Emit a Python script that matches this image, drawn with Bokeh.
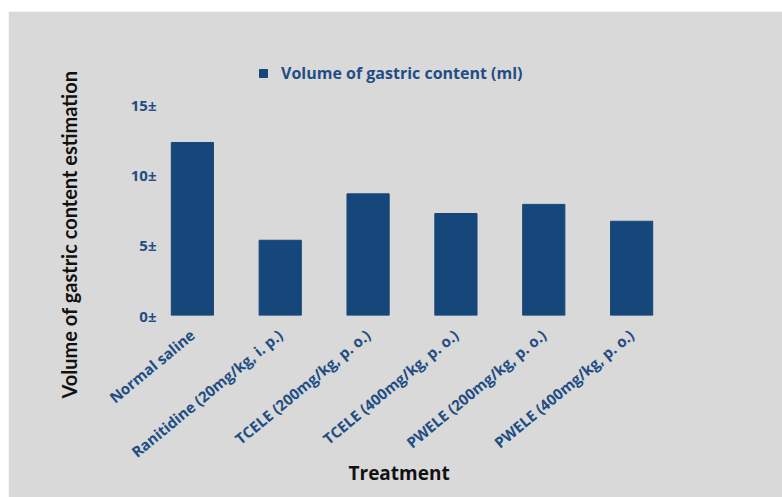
from bokeh.plotting import figure
from bokeh.models import (ColumnDataSource, FixedTicker, Legend, LegendItem,
                          Range1d, Spacer, Title)
from bokeh.layouts import row, column
from bokeh.embed import file_html
from bokeh.resources import INLINE

# Treatment groups and measured gastric volume (ml)
treatments = [
    "Normal saline",
    "Ranitidine (20mg/kg, i. p.)",
    "TCELE (200mg/kg, p. o.)",
    "TCELE (400mg/kg, p. o.)",
    "PWELE (200mg/kg, p. o.)",
    "PWELE (400mg/kg, p. o.)",
]
volume_ml = [12.3, 5.35, 8.65, 7.25, 7.9, 6.7]
y_ticks = [0, 5, 10, 15]
y_tick_labels = ["0±", "5±", "10±", "15±"]

BG = "#d9d9d9"
BAR = "#15477a"
LABEL = "#1f4e85"

positions = list(range(len(treatments)))
source = ColumnDataSource(data=dict(x=positions, top=volume_ml))

p = figure(
    width=774, height=486,
    x_range=Range1d(-0.34, 5.34), y_range=Range1d(0, 18.13),
    frame_width=499, frame_height=255,
    min_border_left=154, min_border_right=121,
    min_border_top=49, min_border_bottom=182,
    toolbar_location=None, output_backend="svg",
    background_fill_color=BG, border_fill_color=BG,
)
p.outline_line_color = BG
p.outline_line_width = 2
p.grid.visible = False

bars = p.vbar(x="x", top="top", width=0.48, bottom=0, source=source,
              fill_color=BAR, line_color=BAR)

# y axis
ya = p.yaxis[0]
ya.ticker = FixedTicker(ticks=y_ticks)
ya.major_label_overrides = {t: l for t, l in zip(y_ticks, y_tick_labels)}
ya.axis_line_color = None
ya.major_tick_line_color = None
ya.minor_tick_line_color = None
ya.major_label_standoff = 0
ya.major_label_text_font = "Open Sans"
ya.major_label_text_font_style = "bold"
ya.major_label_text_font_size = "15px"
ya.major_label_text_color = LABEL

# vertical title on the left, starting below the frame bottom
ytitle = Title(
    text="Volume of gastric content estimation",
    align="left", vertical_align="bottom",
    offset=-83, standoff=93,
    text_font="Lato", text_font_style="bold", text_font_size="20px",
    text_color="#111111",
)
p.add_layout(ytitle, "left")

# x axis
xa = p.xaxis[0]
xa.ticker = FixedTicker(ticks=positions)
xa.major_label_overrides = {i: t for i, t in zip(positions, treatments)}
xa.major_label_orientation = 0.69
xa.axis_line_color = None
xa.major_tick_line_color = None
xa.minor_tick_line_color = None
xa.major_label_standoff = 11
xa.major_label_text_font = "Open Sans"
xa.major_label_text_font_style = "bold"
xa.major_label_text_font_size = "15px"
xa.major_label_text_color = LABEL

# x title, pulled up under the rotated labels
xtitle = Title(
    text="Treatment",
    align="left", vertical_align="middle",
    offset=186, standoff=-32,
    text_font="Open Sans", text_font_style="bold", text_font_size="19px",
    text_color="#111111",
)
p.add_layout(xtitle, "below")

legend = Legend(
    items=[LegendItem(label="Volume of gastric content (ml)", renderers=[bars])],
    location=(96, 231),
    orientation="horizontal",
    background_fill_alpha=0, border_line_color=None,
    padding=0, margin=0, spacing=0,
    glyph_width=10, glyph_height=10, label_standoff=13,
    label_text_font="Open Sans", label_text_font_style="bold",
    label_text_font_size="16px", label_text_color=LABEL,
)
p.add_layout(legend, "center")

layout = row(Spacer(width=8), column(Spacer(height=11), p, spacing=0), spacing=0)

with open("out.html", "w") as f:
    f.write(file_html(layout, INLINE))
